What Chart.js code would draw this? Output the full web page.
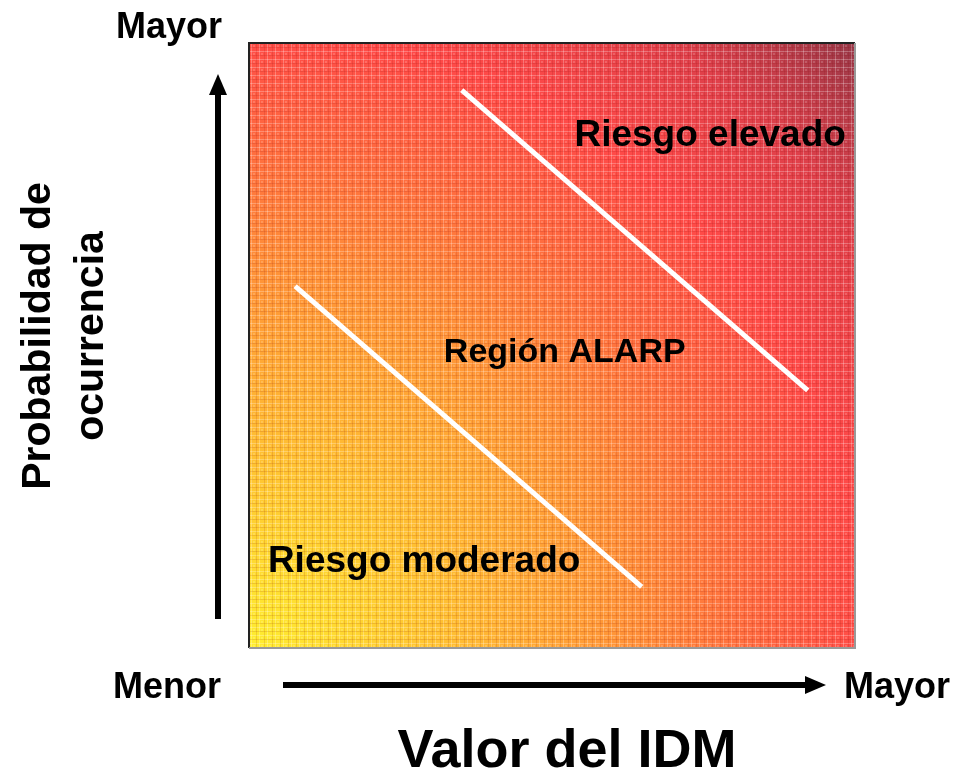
<!DOCTYPE html>
<html>
<head>
<meta charset="utf-8">
<script src="https://cdn.jsdelivr.net/npm/chart.js@4.4.0/dist/chart.umd.min.js"></script>
<style>
  html, body { margin: 0; padding: 0; background: #fff; }
  #wrap { width: 954px; height: 779px; }
</style>
</head>
<body>
<div id="wrap"><canvas id="canvas" width="954" height="779"></canvas></div>
<script>
'use strict';

// both axes run 0..100 (Menor -> Mayor)
var axisMin = 0;
var axisMax = 100;

// the two white boundary lines
var lowerLineX = [7.6, 64.8];
var lowerLineY = [59.8, 10.1];
var upperLineX = [35.1, 92.2];
var upperLineY = [92.2, 42.6];

// region labels (centre positions in data units)
var regionNames = ['Riesgo elevado', 'Región ALARP', 'Riesgo moderado'];
var regionX = [76.1, 52.1, 28.9];
var regionY = [84.6, 48.8, 14.2];

var xTitle = 'Valor del IDM';
var yTitle = ['Probabilidad de', 'ocurrencia'];
var lowLabel = 'Menor';
var highLabel = 'Mayor';

function toPoints(xs, ys) {
  var pts = [];
  for (var i = 0; i < xs.length; i++) {
    pts.push({ x: xs[i], y: ys[i] });
  }
  return pts;
}

var boldFont = '"Liberation Sans", Arial, sans-serif';
var regionFontSize = [37, 34, 37];

var backgroundPlugin = {
  id: 'riskBackground',
  beforeDatasetsDraw: function (chart) {
    var ctx = chart.ctx;
    var a = chart.chartArea;
    var w = a.right - a.left;
    var h = a.bottom - a.top;
    var r = Math.sqrt(w * w + h * h);
    ctx.save();
    var g = ctx.createRadialGradient(a.left, a.bottom, 0, a.left, a.bottom, r);
    g.addColorStop(0, '#ffee30');
    g.addColorStop(0.22, '#ffc232');
    g.addColorStop(0.45, '#ff9038');
    g.addColorStop(0.6, '#ff6840');
    g.addColorStop(0.72, '#ff4a48');
    g.addColorStop(0.86, '#e0404a');
    g.addColorStop(1, '#983848');
    ctx.fillStyle = g;
    ctx.fillRect(a.left, a.top, w, h);

    // fine woven texture
    var tile = document.createElement('canvas');
    tile.width = 8;
    tile.height = 8;
    var tc = tile.getContext('2d');
    tc.fillStyle = 'rgba(255,255,255,0.26)';
    tc.fillRect(0, 3, 8, 1);
    tc.fillRect(3, 0, 1, 8);
    tc.fillStyle = 'rgba(120,0,0,0.12)';
    tc.fillRect(0, 0, 1, 8);
    tc.fillRect(0, 7, 8, 1);
    tc.fillStyle = 'rgba(255,255,255,0.16)';
    tc.fillRect(5, 5, 2, 2);
    ctx.fillStyle = ctx.createPattern(tile, 'repeat');
    ctx.fillRect(a.left, a.top, w, h);

    // frame: dark on top/left, grey on right/bottom
    ctx.lineWidth = 2;
    ctx.strokeStyle = '#222';
    ctx.beginPath();
    ctx.moveTo(a.left, a.bottom);
    ctx.lineTo(a.left, a.top);
    ctx.lineTo(a.right, a.top);
    ctx.stroke();
    ctx.strokeStyle = '#999';
    ctx.beginPath();
    ctx.moveTo(a.right, a.top);
    ctx.lineTo(a.right, a.bottom);
    ctx.lineTo(a.left, a.bottom);
    ctx.stroke();
    ctx.restore();
  }
};

var labelPlugin = {
  id: 'riskLabels',
  afterDraw: function (chart) {
    var ctx = chart.ctx;
    var xs = chart.scales.x;
    var ys = chart.scales.y;
    ctx.save();
    ctx.fillStyle = '#000';
    ctx.textAlign = 'center';
    ctx.textBaseline = 'middle';

    for (var i = 0; i < regionNames.length; i++) {
      ctx.font = 'bold ' + regionFontSize[i] + 'px ' + boldFont;
      ctx.fillText(regionNames[i], xs.getPixelForValue(regionX[i]), ys.getPixelForValue(regionY[i]));
    }

    ctx.font = 'bold 36px ' + boldFont;
    ctx.fillText(highLabel, 169, 28);
    ctx.fillText(lowLabel, 167, 688);
    ctx.fillText(highLabel, 897, 688);

    ctx.font = 'bold 54px ' + boldFont;
    ctx.fillText(xTitle, 567, 752);

    ctx.font = 'bold 41px ' + boldFont;
    ctx.textBaseline = 'alphabetic';
    ctx.translate(62, 336);
    ctx.rotate(-Math.PI / 2);
    ctx.fillText(yTitle[0], 0, -12);
    ctx.fillText(yTitle[1], 0, 41);
    ctx.restore();

    // arrows
    ctx.save();
    ctx.fillStyle = '#000';
    ctx.fillRect(215, 92, 6, 527);
    ctx.beginPath();
    ctx.moveTo(218, 74);
    ctx.lineTo(209, 95);
    ctx.lineTo(227, 95);
    ctx.closePath();
    ctx.fill();

    ctx.fillRect(283, 682, 525, 6);
    ctx.beginPath();
    ctx.moveTo(826, 685);
    ctx.lineTo(805, 676);
    ctx.lineTo(805, 694);
    ctx.closePath();
    ctx.fill();
    ctx.restore();
  }
};

var canvas = document.getElementById('canvas');
var ctx = canvas.getContext('2d');

var chartStuff = {
  type: 'scatter',
  data: {
    datasets: [{
      data: toPoints(lowerLineX, lowerLineY),
      showLine: true,
      borderColor: '#ffffff',
      borderWidth: 5,
      pointRadius: 0,
      borderCapStyle: 'butt'
    }, {
      data: toPoints(upperLineX, upperLineY),
      showLine: true,
      borderColor: '#ffffff',
      borderWidth: 5,
      pointRadius: 0,
      borderCapStyle: 'butt'
    }]
  },
  options: {
    responsive: false,
    animation: false,
    layout: {
      padding: { left: 249, top: 43, right: 99, bottom: 131 }
    },
    plugins: {
      legend: { display: false },
      tooltip: { enabled: false }
    },
    scales: {
      x: { type: 'linear', min: axisMin, max: axisMax, display: false },
      y: { type: 'linear', min: axisMin, max: axisMax, display: false }
    }
  },
  plugins: [backgroundPlugin, labelPlugin]
};

var riskChart = new Chart(ctx, chartStuff);
</script>
</body>
</html>
